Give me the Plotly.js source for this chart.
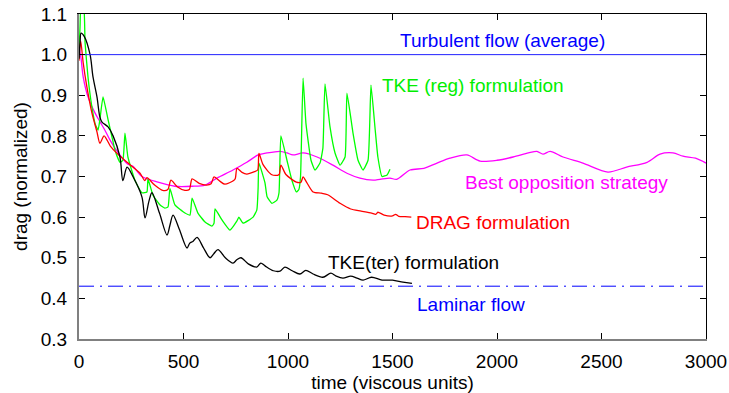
<!DOCTYPE html>
<html>
<head>
<meta charset="utf-8">
<script src="https://cdn.plot.ly/plotly-3.0.1.min.js"></script>
<style>html,body{margin:0;padding:0;background:#fff;}#chart{width:729px;height:393px;}</style>
</head>
<body>
<div id="chart"></div>
<script>
// TKE (ter) formulation - black
var terT = [0, 5, 10, 25, 53, 67, 86, 100, 110, 139, 163, 196, 210, 230, 258, 301, 316, 335, 349, 385, 421, 435, 450, 480, 517, 530, 545, 565, 595, 627, 645, 665, 700, 737, 755, 775, 810, 850, 870, 890, 930, 962, 985, 1020, 1057, 1085, 1120, 1167, 1205, 1230, 1263, 1300, 1330, 1359, 1400, 1450, 1500, 1550, 1593];
var terY = [0.99, 1.03, 1.053, 1.045, 1.0, 0.945, 0.896, 0.846, 0.834, 0.822, 0.80, 0.748, 0.69, 0.723, 0.70, 0.65, 0.598, 0.64, 0.66, 0.61, 0.556, 0.58, 0.605, 0.57, 0.524, 0.536, 0.54, 0.55, 0.525, 0.50, 0.51, 0.52, 0.50, 0.487, 0.495, 0.50, 0.485, 0.477, 0.487, 0.48, 0.468, 0.467, 0.477, 0.468, 0.46, 0.469, 0.46, 0.452, 0.462, 0.455, 0.45, 0.455, 0.45, 0.445, 0.452, 0.445, 0.445, 0.44, 0.437];

// DRAG formulation - red
var dragT = [0, 8, 20, 38, 62, 86, 100, 120, 150, 182, 235, 292, 315, 325, 360, 400, 425, 440, 470, 507, 528, 541, 575, 610, 632, 646, 675, 698, 740, 748, 756, 780, 803, 840, 855, 861, 880, 920, 950, 958, 966, 990, 1040, 1062, 1072, 1090, 1120, 1160, 1190, 1249, 1300, 1350, 1400, 1420, 1430, 1460, 1500, 1515, 1530, 1560, 1590];
var dragY = [0.985, 1.034, 0.98, 0.92, 0.856, 0.81, 0.782, 0.80, 0.775, 0.757, 0.733, 0.708, 0.69, 0.697, 0.68, 0.666, 0.668, 0.691, 0.675, 0.666, 0.668, 0.694, 0.683, 0.679, 0.682, 0.699, 0.688, 0.681, 0.69, 0.695, 0.72, 0.71, 0.706, 0.712, 0.716, 0.757, 0.73, 0.705, 0.703, 0.705, 0.728, 0.705, 0.686, 0.686, 0.699, 0.685, 0.662, 0.659, 0.655, 0.634, 0.62, 0.615, 0.61, 0.607, 0.612, 0.605, 0.603, 0.607, 0.602, 0.601, 0.60];

// Best opposition strategy - magenta
var bestT = [0, 10, 20, 43, 77, 100, 124, 148, 172, 234, 258, 301, 378, 459, 541, 603, 660, 737, 803, 857, 900, 962, 995, 1024, 1072, 1139, 1215, 1282, 1344, 1407, 1440, 1488, 1520, 1584, 1650, 1713, 1775, 1856, 1919, 2000, 2077, 2150, 2191, 2220, 2254, 2316, 2411, 2531, 2620, 2718, 2780, 2842, 2890, 2950, 3000];
var bestY = [1.02, 0.99, 0.945, 0.896, 0.856, 0.835, 0.814, 0.79, 0.77, 0.73, 0.725, 0.70, 0.686, 0.676, 0.676, 0.679, 0.696, 0.716, 0.735, 0.753, 0.758, 0.762, 0.758, 0.753, 0.758, 0.748, 0.728, 0.708, 0.696, 0.691, 0.693, 0.696, 0.693, 0.716, 0.72, 0.733, 0.745, 0.753, 0.738, 0.74, 0.748, 0.758, 0.762, 0.755, 0.762, 0.748, 0.733, 0.711, 0.723, 0.735, 0.755, 0.758, 0.75, 0.745, 0.733];

// TKE (reg) formulation - green
var regT = [0, 5, 10, 22, 29, 43, 62, 77, 91, 100, 115, 139, 158, 172, 196, 210, 220, 234, 268, 301, 325, 330, 354, 388, 411, 426, 435, 459, 507, 531, 541, 569, 603, 636, 646, 651, 684, 722, 755, 765, 785, 833, 851, 857, 861, 890, 900, 923, 947, 957, 966, 995, 1019, 1040, 1052, 1060, 1072, 1086, 1110, 1129, 1153, 1167, 1177, 1201, 1225, 1249, 1273, 1282, 1311, 1335, 1359, 1383, 1397, 1416, 1430, 1450, 1474, 1488];
var regY = [1.0, 1.07, 1.12, 1.12, 1.03, 0.945, 0.87, 0.83, 0.814, 0.84, 0.896, 0.84, 0.797, 0.765, 0.735, 0.74, 0.807, 0.748, 0.69, 0.66, 0.662, 0.694, 0.654, 0.63, 0.622, 0.625, 0.671, 0.63, 0.61, 0.605, 0.647, 0.61, 0.588, 0.578, 0.585, 0.62, 0.593, 0.568, 0.59, 0.60, 0.585, 0.60, 0.618, 0.671, 0.733, 0.684, 0.65, 0.634, 0.642, 0.66, 0.80, 0.74, 0.69, 0.662, 0.668, 0.70, 0.942, 0.83, 0.74, 0.716, 0.733, 0.77, 0.928, 0.822, 0.758, 0.728, 0.748, 0.905, 0.807, 0.74, 0.716, 0.74, 0.925, 0.822, 0.748, 0.70, 0.704, 0.718];

// Reference levels
var refT = [0, 3000];
var turbY = [1.0, 1.0];
var lamY = [0.43, 0.43];

// Labels
var labelText = ["Turbulent flow (average)", "TKE (reg) formulation", "Best opposition strategy", "DRAG formulation", "TKE(ter) formulation", "Laminar flow"];
var labelX = [2024, 1440, 1835, 1605, 1180, 1610];
var labelY = [1.034, 0.923, 0.686, 0.588, 0.489, 0.386];
var labelColor = ["#0000ff", "#00ee00", "#ff00ff", "#ff0000", "#000000", "#0000ff"];
var labelAnchor = ["center", "left", "left", "left", "left", "left"];

var FONT = "Liberation Sans, Arial, Helvetica, sans-serif";

var traces = [
  {x: refT, y: turbY, mode: "lines", line: {color: "#2020ff", width: 1}, xaxis: "x2", yaxis: "y2", hoverinfo: "skip"},
  {x: refT, y: lamY, mode: "lines", line: {color: "#0000ff", width: 1, dash: "15px,6px,2px,6px"}, xaxis: "x2", yaxis: "y2", hoverinfo: "skip"},
  {x: bestT, y: bestY, mode: "lines", line: {color: "#ff00ff", width: 1.3, shape: "spline", smoothing: 0.8}},
  {x: regT, y: regY, mode: "lines", line: {color: "#00ff00", width: 1.3, shape: "spline", smoothing: 0.4}},
  {x: dragT, y: dragY, mode: "lines", line: {color: "#ff0000", width: 1.3, shape: "spline", smoothing: 0.7}},
  {x: terT, y: terY, mode: "lines", line: {color: "#000000", width: 1.3, shape: "spline", smoothing: 0.9}}
];

var annotations = labelText.map(function (t, i) {
  return {x: labelX[i], y: labelY[i], xref: "x", yref: "y", text: t, showarrow: false,
    xanchor: labelAnchor[i], yanchor: "middle", font: {family: FONT, size: 19, color: labelColor[i]}};
});

var axCommon = {ticks: "inside", ticklen: 6, tickwidth: 1, tickcolor: "#000", showgrid: false, zeroline: false};

var layout = {
  width: 729, height: 393,
  margin: {l: 79, r: 23, t: 14, b: 54, pad: 0},
  paper_bgcolor: "#fff", plot_bgcolor: "#fff",
  showlegend: false,
  font: {family: FONT, size: 19, color: "#000"},
  xaxis: Object.assign({}, axCommon, {range: [0, 3000], dtick: 500, tick0: 0, showline: true, linecolor: "#808080", linewidth: 2,
    title: {text: "time (viscous units)", font: {family: FONT, size: 19}, standoff: 4}, tickfont: {family: FONT, size: 19}, ticklabelstandoff: 4}),
  yaxis: Object.assign({}, axCommon, {range: [0.3, 1.1], dtick: 0.1, tick0: 0.3, tickformat: ".1f", showline: true, linecolor: "#808080", linewidth: 2,
    title: {text: "drag (normalized)", font: {family: FONT, size: 19}, standoff: 8}, tickfont: {family: FONT, size: 19}, ticklabelstandoff: 6}),
  xaxis2: Object.assign({}, axCommon, {range: [0, 3000], dtick: 500, tick0: 0, overlaying: "x", side: "top", anchor: "y2",
    showline: true, linecolor: "#000", linewidth: 1, showticklabels: false}),
  yaxis2: Object.assign({}, axCommon, {range: [0.3, 1.1], dtick: 0.1, tick0: 0.3, overlaying: "y", side: "right", anchor: "x2",
    showline: true, linecolor: "#000", linewidth: 1, showticklabels: false}),
  annotations: annotations
};

Plotly.newPlot("chart", traces, layout, {staticPlot: true, displayModeBar: false});
</script>
</body>
</html>
